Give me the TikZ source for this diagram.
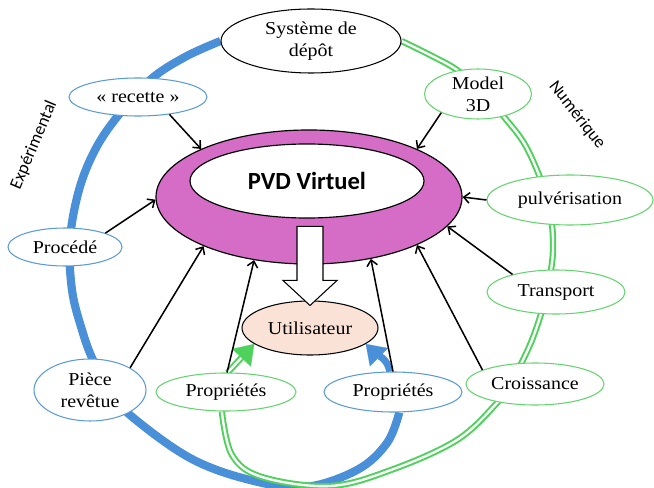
\documentclass[tikz,border=0pt]{standalone}
\usepackage{fontspec}
\setmainfont{Liberation Serif}[FakeStretch=1.1]
\newfontfamily\calib{Carlito}
\usetikzlibrary{arrows.meta,calc,backgrounds,shapes.geometric}
\definecolor{myblue}{RGB}{74,144,217}
\definecolor{blueedge}{RGB}{91,155,213}
\definecolor{mygreen}{RGB}{78,210,92}
\definecolor{greenedge}{RGB}{100,212,110}
\definecolor{magent}{RGB}{213,108,198}
\definecolor{peach}{RGB}{251,226,214}
\begin{document}
\begin{tikzpicture}[x=0.03cm,y=-0.03cm,
 bub/.style={ellipse, draw, fill=white, line width=0.9pt, inner sep=0pt, align=center, font=\fontsize{15.5}{18.5}\selectfont},
 bbub/.style={bub, draw=blueedge},
 gbub/.style={bub, draw=greenedge},
 arr/.style={line width=1.3pt, -{Straight Barb[length=5pt,width=9pt]}},
 bluearc/.style={myblue, line width=7pt},
 greenarc/.style={mygreen, line width=1.7pt, double=white, double distance=2pt},
 sidelabel/.style={font=\calib\fontsize{15}{18}\selectfont}
 ]
\useasboundingbox (0,0) rectangle (654,488);

\node[bub, inner sep=-2pt, minimum width=5.4cm, minimum height=1.92cm] (sys) at (311,41) {Système de\\dépôt};
\node[bbub, minimum width=4.14cm, minimum height=1.14cm] (rec) at (138,97) {« recette »};
\node[gbub, inner sep=-3pt, minimum width=3.21cm, minimum height=1.5cm] (mod) at (478,94) {Model\\3D};
\node[ellipse, draw, fill=magent, line width=1pt, minimum width=9.18cm, minimum height=4.02cm] (pvd) at (309,197) {};
\node[ellipse, draw, fill=white, line width=1pt, inner sep=0pt, minimum width=7.02cm, minimum height=2.22cm, font=\calib\bfseries\fontsize{21}{24}\selectfont] (pvdin) at (307,181) {PVD Virtuel};
\node[bub, fill=peach, minimum width=4.08cm, minimum height=1.62cm] (user) at (310,328) {Utilisateur};
\node[bbub, minimum width=3.42cm, minimum height=1.14cm] (proc) at (65,247) {Procédé};
\node[gbub, minimum width=4.98cm, minimum height=1.5cm] (pulv) at (570,200) {pulvérisation};
\node[gbub, minimum width=4.14cm, minimum height=1.32cm] (trans) at (556,292) {Transport};
\node[gbub, minimum width=4.14cm, minimum height=1.26cm] (crois) at (535,384) {Croissance};
\node[bbub, inner sep=-2pt, minimum width=3.36cm, minimum height=1.86cm] (piece) at (90,390) {Pièce\\revêtue};
\node[gbub, minimum width=4.2cm, minimum height=1.14cm] (propg) at (226,392) {Propriétés};
\node[bbub, minimum width=4.14cm, minimum height=1.2cm] (propb) at (393,392) {Propriétés};

\node[sidelabel, rotate=67] (exp) at (34,145) {Expérimental};
\node[sidelabel, rotate=-52] (num) at (577,115) {Numérique};

\begin{scope}[on background layer]
\draw[bluearc] plot[smooth, tension=0.6] coordinates {(sys.180) (185,57) (150,80) (117,117) (95,150) (79,190) (70,240) (72,290) (82,330) (93,360) (110,390) (130,415) (190,458) (250,480) (305,487) (357,470) (387,443) (propb.-73)};
\draw[greenarc] plot[smooth, tension=0.6] coordinates {(sys.0) (430,55) (457,70) (482,92) (504,117) (524,143) (539,175) (547,200) (552,225) (553,250) (551,270) (547,292) (541,314) (532,340) (521,364) (510,385) (497,403) (457,440) (391,470) (330,486) (262,477) (232,455) (propg.258)};
\draw[myblue, line width=6pt, -{Triangle[length=16pt,width=22pt,line width=0.1pt]}] (propb.99) to[out=100,in=-45] (user.-16);
\draw[greenarc, -{Triangle[length=16pt,width=22pt,line width=0.1pt]}] (propg.85) -- (user.196);
\end{scope}

\coordinate (T) at ($(user.north)+(0,5)$);
\draw[fill=white, line width=0.9pt, line join=miter] (T) -- ++(-27,-25) -- ++(14,0) -- ++(0,-54) -- ++(26,0) -- ++(0,54) -- ++(14,0) -- cycle;

\draw[arr] (rec.-29) -- (pvd.156);
\draw[arr] (mod.207) -- (pvd.24);
\draw[arr] (pulv.180) -- (pvd.0);
\draw[arr] (trans.158) -- (pvd.-12);
\draw[arr] (crois.165) -- (pvd.-24);
\draw[arr] (proc.19) -- (pvd.181);
\draw[arr] (piece.29) -- (pvd.205);
\draw[arr] (propg.87) -- (pvd.229);
\draw[arr] (propb.90) -- (pvd.-45);
\end{tikzpicture}
\end{document}
